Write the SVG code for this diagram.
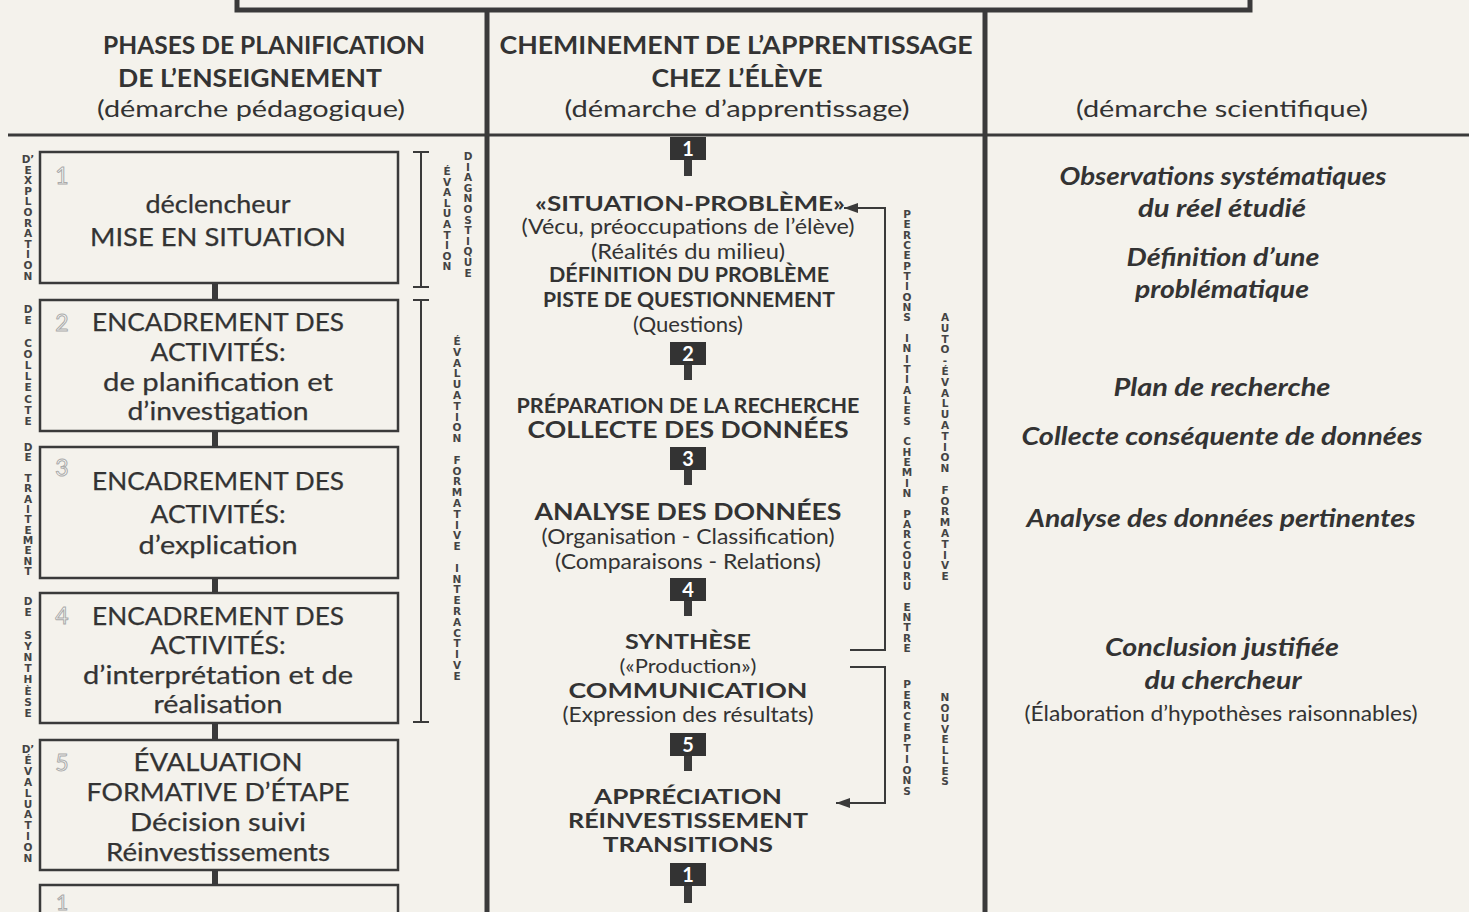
<svg xmlns="http://www.w3.org/2000/svg" width="1469" height="912" viewBox="0 0 1469 912">
<defs>
<style>
text{font-family:Lato,"Open Sans","Liberation Sans",sans-serif;fill:#333;}
.hd{font-size:24px;font-weight:bold;text-anchor:middle;}
.hs{font-size:23px;text-anchor:middle;}
.bx{font-size:25px;text-anchor:middle;stroke:#333;stroke-width:0.25;}
.num{font-size:23px;fill:#fbfbf8;stroke:#aaa;stroke-width:1;text-anchor:middle;}
.mb{font-size:21px;font-weight:bold;text-anchor:middle;}
.mr{font-size:21px;text-anchor:middle;}
.sqn{font-size:20px;font-weight:bold;fill:#fff;text-anchor:middle;}
.it{font-size:24px;font-weight:bold;font-style:italic;text-anchor:middle;}
.vl{font-family:"DejaVu Sans",Lato,sans-serif;font-size:10.5px;font-weight:bold;text-anchor:middle;fill:#444;}
.box{fill:none;stroke:#3a3a3a;stroke-width:2.5;}
.ln{stroke:#3a3a3a;fill:none;}
.sq{fill:#333;}
</style>
<marker id="ah" viewBox="0 0 14 10" refX="14" refY="5" markerWidth="14" markerHeight="10" markerUnits="userSpaceOnUse" orient="auto">
<path d="M0,0 L14,5 L0,10 Z" fill="#3a3a3a"/>
</marker>
</defs>
<rect width="1469" height="912" fill="#f4f2ec"/>

<g id="frame">
<path class="ln" d="M237,0 V10 H1250 V0" stroke-width="5"/>
<line class="ln" x1="487" y1="10" x2="487" y2="912" stroke-width="5"/>
<line class="ln" x1="985" y1="10" x2="985" y2="912" stroke-width="5"/>
<line class="ln" x1="8" y1="135" x2="1469" y2="135" stroke-width="3"/>
</g>

<g id="headers">
<text class="hd" x="264" y="54" textLength="322" lengthAdjust="spacingAndGlyphs">PHASES DE PLANIFICATION</text>
<text class="hd" x="250" y="87" textLength="264" lengthAdjust="spacingAndGlyphs">DE L’ENSEIGNEMENT</text>
<text class="hs" x="251" y="117" textLength="308" lengthAdjust="spacingAndGlyphs">(démarche pédagogique)</text>
<text class="hd" x="736" y="54" textLength="473" lengthAdjust="spacingAndGlyphs">CHEMINEMENT DE L’APPRENTISSAGE</text>
<text class="hd" x="737" y="87" textLength="171" lengthAdjust="spacingAndGlyphs">CHEZ L’ÉLÈVE</text>
<text class="hs" x="737" y="117" textLength="345" lengthAdjust="spacingAndGlyphs">(démarche d’apprentissage)</text>
<text class="hs" x="1222" y="117" textLength="292" lengthAdjust="spacingAndGlyphs">(démarche scientifique)</text>
</g>

<g id="left-phase-labels">
<text class="vl"><tspan x="28" y="163">D’</tspan><tspan x="28" y="173.6">E</tspan><tspan x="28" y="184.2">X</tspan><tspan x="28" y="194.8">P</tspan><tspan x="28" y="205.4">L</tspan><tspan x="28" y="216">O</tspan><tspan x="28" y="226.6">R</tspan><tspan x="28" y="237.2">A</tspan><tspan x="28" y="247.8">T</tspan><tspan x="28" y="258.4">I</tspan><tspan x="28" y="269">O</tspan><tspan x="28" y="279.6">N</tspan></text>
<text class="vl"><tspan x="28" y="313">D</tspan><tspan x="28" y="324.2">E</tspan><tspan x="28" y="346.6">C</tspan><tspan x="28" y="357.8">O</tspan><tspan x="28" y="369">L</tspan><tspan x="28" y="380.2">L</tspan><tspan x="28" y="391.4">E</tspan><tspan x="28" y="402.6">C</tspan><tspan x="28" y="413.8">T</tspan><tspan x="28" y="425">E</tspan></text>
<text class="vl"><tspan x="28" y="451">D</tspan><tspan x="28" y="461.3">E</tspan><tspan x="28" y="482">T</tspan><tspan x="28" y="492.3">R</tspan><tspan x="28" y="502.7">A</tspan><tspan x="28" y="513">I</tspan><tspan x="28" y="523.3">T</tspan><tspan x="28" y="533.7">E</tspan><tspan x="28" y="544">M</tspan><tspan x="28" y="554.3">E</tspan><tspan x="28" y="564.7">N</tspan><tspan x="28" y="575">T</tspan></text>
<text class="vl"><tspan x="28" y="605">D</tspan><tspan x="28" y="616.2">E</tspan><tspan x="28" y="638.6">S</tspan><tspan x="28" y="649.8">Y</tspan><tspan x="28" y="661">N</tspan><tspan x="28" y="672.2">T</tspan><tspan x="28" y="683.4">H</tspan><tspan x="28" y="694.6">È</tspan><tspan x="28" y="705.8">S</tspan><tspan x="28" y="717">E</tspan></text>
<text class="vl"><tspan x="28" y="753">D’</tspan><tspan x="28" y="763.9">É</tspan><tspan x="28" y="774.8">V</tspan><tspan x="28" y="785.7">A</tspan><tspan x="28" y="796.6">L</tspan><tspan x="28" y="807.5">U</tspan><tspan x="28" y="818.4">A</tspan><tspan x="28" y="829.3">T</tspan><tspan x="28" y="840.2">I</tspan><tspan x="28" y="851.1">O</tspan><tspan x="28" y="862">N</tspan></text>
</g>

<g id="connectors">
<g class="ln" stroke-width="6">
<line x1="215" y1="283" x2="215" y2="300"/>
<line x1="215" y1="431" x2="215" y2="447"/>
<line x1="215" y1="578" x2="215" y2="593"/>
<line x1="215" y1="723" x2="215" y2="740"/>
<line x1="215" y1="870" x2="215" y2="885"/>
</g>
<g class="ln" stroke-width="2">
<path d="M421,152 V287 M413,152 H429 M413,287 H429"/>
<path d="M421,300 V722 M413,300 H429 M413,722 H429"/>
</g>
<g class="ln" stroke-width="8">
<line x1="688" y1="160" x2="688" y2="176"/>
<line x1="688" y1="365" x2="688" y2="380"/>
<line x1="688" y1="470" x2="688" y2="485"/>
<line x1="688" y1="601" x2="688" y2="616"/>
<line x1="688" y1="756" x2="688" y2="771"/>
<line x1="688" y1="886" x2="688" y2="903"/>
</g>
<path class="ln" stroke-width="2" d="M850,650 H885 V208 H844" marker-end="url(#ah)"/>
<path class="ln" stroke-width="2" d="M850,667 H885 V803 H836" marker-end="url(#ah)"/>
</g>

<g id="bracket-labels">
<text class="vl"><tspan x="447" y="175">É</tspan><tspan x="447" y="185.6">V</tspan><tspan x="447" y="196.2">A</tspan><tspan x="447" y="206.8">L</tspan><tspan x="447" y="217.4">U</tspan><tspan x="447" y="228">A</tspan><tspan x="447" y="238.6">T</tspan><tspan x="447" y="249.2">I</tspan><tspan x="447" y="259.8">O</tspan><tspan x="447" y="270.4">N</tspan></text>
<text class="vl"><tspan x="468" y="160">D</tspan><tspan x="468" y="170.6">I</tspan><tspan x="468" y="181.2">A</tspan><tspan x="468" y="191.8">G</tspan><tspan x="468" y="202.4">N</tspan><tspan x="468" y="213">O</tspan><tspan x="468" y="223.6">S</tspan><tspan x="468" y="234.2">T</tspan><tspan x="468" y="244.8">I</tspan><tspan x="468" y="255.4">Q</tspan><tspan x="468" y="266">U</tspan><tspan x="468" y="276.6">E</tspan></text>
<text class="vl"><tspan x="457" y="345">É</tspan><tspan x="457" y="355.8">V</tspan><tspan x="457" y="366.6">A</tspan><tspan x="457" y="377.4">L</tspan><tspan x="457" y="388.2">U</tspan><tspan x="457" y="399">A</tspan><tspan x="457" y="409.8">T</tspan><tspan x="457" y="420.6">I</tspan><tspan x="457" y="431.4">O</tspan><tspan x="457" y="442.2">N</tspan><tspan x="457" y="463.8">F</tspan><tspan x="457" y="474.6">O</tspan><tspan x="457" y="485.4">R</tspan><tspan x="457" y="496.2">M</tspan><tspan x="457" y="507">A</tspan><tspan x="457" y="517.8">T</tspan><tspan x="457" y="528.6">I</tspan><tspan x="457" y="539.4">V</tspan><tspan x="457" y="550.2">E</tspan><tspan x="457" y="571.8">I</tspan><tspan x="457" y="582.6">N</tspan><tspan x="457" y="593.4">T</tspan><tspan x="457" y="604.2">E</tspan><tspan x="457" y="615">R</tspan><tspan x="457" y="625.8">A</tspan><tspan x="457" y="636.6">C</tspan><tspan x="457" y="647.4">T</tspan><tspan x="457" y="658.2">I</tspan><tspan x="457" y="669">V</tspan><tspan x="457" y="679.8">E</tspan></text>
</g>

<g id="box1">
<rect class="box" x="40" y="152" width="358" height="131"/>
<text class="num" x="62" y="184">1</text>
<text class="bx" x="218" y="213" textLength="145" lengthAdjust="spacingAndGlyphs">déclencheur</text>
<text class="bx" x="218" y="246" textLength="256" lengthAdjust="spacingAndGlyphs">MISE EN SITUATION</text>
</g>
<g id="box2">
<rect class="box" x="40" y="300" width="358" height="131"/>
<text class="num" x="62" y="331">2</text>
<text class="bx" x="218" y="331" textLength="252" lengthAdjust="spacingAndGlyphs">ENCADREMENT DES</text>
<text class="bx" x="218" y="361" textLength="135" lengthAdjust="spacingAndGlyphs">ACTIVITÉS:</text>
<text class="bx" x="218" y="391" textLength="230" lengthAdjust="spacingAndGlyphs">de planification et</text>
<text class="bx" x="218" y="420" textLength="181" lengthAdjust="spacingAndGlyphs">d’investigation</text>
</g>
<g id="box3">
<rect class="box" x="40" y="447" width="358" height="131"/>
<text class="num" x="62" y="476">3</text>
<text class="bx" x="218" y="490" textLength="252" lengthAdjust="spacingAndGlyphs">ENCADREMENT DES</text>
<text class="bx" x="218" y="523" textLength="135" lengthAdjust="spacingAndGlyphs">ACTIVITÉS:</text>
<text class="bx" x="218" y="554" textLength="159" lengthAdjust="spacingAndGlyphs">d’explication</text>
</g>
<g id="box4">
<rect class="box" x="40" y="593" width="358" height="130"/>
<text class="num" x="62" y="624">4</text>
<text class="bx" x="218" y="625" textLength="252" lengthAdjust="spacingAndGlyphs">ENCADREMENT DES</text>
<text class="bx" x="218" y="654" textLength="135" lengthAdjust="spacingAndGlyphs">ACTIVITÉS:</text>
<text class="bx" x="218" y="684" textLength="270" lengthAdjust="spacingAndGlyphs">d’interprétation et de</text>
<text class="bx" x="218" y="713" textLength="129" lengthAdjust="spacingAndGlyphs">réalisation</text>
</g>
<g id="box5">
<rect class="box" x="40" y="740" width="358" height="130"/>
<text class="num" x="62" y="771">5</text>
<text class="bx" x="218" y="771" textLength="169" lengthAdjust="spacingAndGlyphs">ÉVALUATION</text>
<text class="bx" x="218" y="801" textLength="263" lengthAdjust="spacingAndGlyphs">FORMATIVE D’ÉTAPE</text>
<text class="bx" x="218" y="831" textLength="176" lengthAdjust="spacingAndGlyphs">Décision suivi</text>
<text class="bx" x="218" y="861" textLength="224" lengthAdjust="spacingAndGlyphs">Réinvestissements</text>
</g>
<g id="box1-next">
<rect class="box" x="40" y="885" width="358" height="40"/>
<text class="num" x="62" y="910" style="font-size:21px">1</text>
</g>

<g id="step1">
<rect class="sq" x="670" y="137" width="36" height="23"/>
<text class="sqn" x="688" y="156">1</text>
<text class="mb" x="690" y="211" textLength="310" lengthAdjust="spacingAndGlyphs">«SITUATION-PROBLÈME»</text>
<text class="mr" x="688" y="234" textLength="333" lengthAdjust="spacingAndGlyphs">(Vécu, préoccupations de l’élève)</text>
<text class="mr" x="688" y="259" textLength="194" lengthAdjust="spacingAndGlyphs">(Réalités du milieu)</text>
<text class="mb" x="689" y="282" textLength="280" lengthAdjust="spacingAndGlyphs">DÉFINITION DU PROBLÈME</text>
<text class="mb" x="689" y="307" textLength="292" lengthAdjust="spacingAndGlyphs">PISTE DE QUESTIONNEMENT</text>
<text class="mr" x="688" y="332" textLength="110" lengthAdjust="spacingAndGlyphs">(Questions)</text>
</g>
<g id="step2">
<rect class="sq" x="670" y="342" width="36" height="23"/>
<text class="sqn" x="688" y="361">2</text>
<text class="mb" x="688" y="413" textLength="343" lengthAdjust="spacingAndGlyphs" style="font-size:20px">PRÉPARATION DE LA RECHERCHE</text>
<text class="mb" x="688" y="438" textLength="321" lengthAdjust="spacingAndGlyphs" style="font-size:22px">COLLECTE DES DONNÉES</text>
</g>
<g id="step3">
<rect class="sq" x="670" y="447" width="36" height="23"/>
<text class="sqn" x="688" y="466">3</text>
<text class="mb" x="688" y="520" textLength="307" lengthAdjust="spacingAndGlyphs" style="font-size:22px">ANALYSE DES DONNÉES</text>
<text class="mr" x="688" y="544" textLength="293" lengthAdjust="spacingAndGlyphs">(Organisation - Classification)</text>
<text class="mr" x="688" y="569" textLength="266" lengthAdjust="spacingAndGlyphs">(Comparaisons - Relations)</text>
</g>
<g id="step4">
<rect class="sq" x="670" y="578" width="36" height="23"/>
<text class="sqn" x="688" y="597">4</text>
<text class="mb" x="688" y="649" textLength="126" lengthAdjust="spacingAndGlyphs">SYNTHÈSE</text>
<text class="mr" x="688" y="673" textLength="137" lengthAdjust="spacingAndGlyphs" style="font-size:19px">(«Production»)</text>
<text class="mb" x="688" y="698" textLength="239" lengthAdjust="spacingAndGlyphs">COMMUNICATION</text>
<text class="mr" x="688" y="722" textLength="251" lengthAdjust="spacingAndGlyphs">(Expression des résultats)</text>
</g>
<g id="step5">
<rect class="sq" x="670" y="733" width="36" height="23"/>
<text class="sqn" x="688" y="752">5</text>
<text class="mb" x="688" y="804" textLength="188" lengthAdjust="spacingAndGlyphs">APPRÉCIATION</text>
<text class="mb" x="688" y="828" textLength="240" lengthAdjust="spacingAndGlyphs">RÉINVESTISSEMENT</text>
<text class="mb" x="688" y="852" textLength="170" lengthAdjust="spacingAndGlyphs">TRANSITIONS</text>
</g>
<g id="step1-next">
<rect class="sq" x="670" y="863" width="36" height="23"/>
<text class="sqn" x="688" y="882">1</text>
</g>

<g id="path-labels">
<text class="vl"><tspan x="907" y="218">P</tspan><tspan x="907" y="228.3">E</tspan><tspan x="907" y="238.7">R</tspan><tspan x="907" y="249">C</tspan><tspan x="907" y="259.3">E</tspan><tspan x="907" y="269.7">P</tspan><tspan x="907" y="280">T</tspan><tspan x="907" y="290.3">I</tspan><tspan x="907" y="300.7">O</tspan><tspan x="907" y="311">N</tspan><tspan x="907" y="321.3">S</tspan><tspan x="907" y="342">I</tspan><tspan x="907" y="352.3">N</tspan><tspan x="907" y="362.7">I</tspan><tspan x="907" y="373">T</tspan><tspan x="907" y="383.3">I</tspan><tspan x="907" y="393.7">A</tspan><tspan x="907" y="404">L</tspan><tspan x="907" y="414.3">E</tspan><tspan x="907" y="424.7">S</tspan><tspan x="907" y="445.3">C</tspan><tspan x="907" y="455.7">H</tspan><tspan x="907" y="466">E</tspan><tspan x="907" y="476.3">M</tspan><tspan x="907" y="486.7">I</tspan><tspan x="907" y="497">N</tspan><tspan x="907" y="517.7">P</tspan><tspan x="907" y="528">A</tspan><tspan x="907" y="538.3">R</tspan><tspan x="907" y="548.7">C</tspan><tspan x="907" y="559">O</tspan><tspan x="907" y="569.3">U</tspan><tspan x="907" y="579.7">R</tspan><tspan x="907" y="590">U</tspan><tspan x="907" y="610.7">E</tspan><tspan x="907" y="621">N</tspan><tspan x="907" y="631.3">T</tspan><tspan x="907" y="641.7">R</tspan><tspan x="907" y="652">E</tspan></text>
<text class="vl"><tspan x="945" y="321">A</tspan><tspan x="945" y="331.8">U</tspan><tspan x="945" y="342.6">T</tspan><tspan x="945" y="353.4">O</tspan><tspan x="945" y="364.2">-</tspan><tspan x="945" y="375">É</tspan><tspan x="945" y="385.8">V</tspan><tspan x="945" y="396.6">A</tspan><tspan x="945" y="407.4">L</tspan><tspan x="945" y="418.2">U</tspan><tspan x="945" y="429">A</tspan><tspan x="945" y="439.8">T</tspan><tspan x="945" y="450.6">I</tspan><tspan x="945" y="461.4">O</tspan><tspan x="945" y="472.2">N</tspan><tspan x="945" y="493.8">F</tspan><tspan x="945" y="504.6">O</tspan><tspan x="945" y="515.4">R</tspan><tspan x="945" y="526.2">M</tspan><tspan x="945" y="537">A</tspan><tspan x="945" y="547.8">T</tspan><tspan x="945" y="558.6">I</tspan><tspan x="945" y="569.4">V</tspan><tspan x="945" y="580.2">E</tspan></text>
<text class="vl"><tspan x="907" y="688">P</tspan><tspan x="907" y="698.7">E</tspan><tspan x="907" y="709.4">R</tspan><tspan x="907" y="720.1">C</tspan><tspan x="907" y="730.8">E</tspan><tspan x="907" y="741.5">P</tspan><tspan x="907" y="752.2">T</tspan><tspan x="907" y="762.9">I</tspan><tspan x="907" y="773.6">O</tspan><tspan x="907" y="784.3">N</tspan><tspan x="907" y="795">S</tspan></text>
<text class="vl"><tspan x="945" y="701">N</tspan><tspan x="945" y="711.5">O</tspan><tspan x="945" y="722">U</tspan><tspan x="945" y="732.5">V</tspan><tspan x="945" y="743">E</tspan><tspan x="945" y="753.5">L</tspan><tspan x="945" y="764">L</tspan><tspan x="945" y="774.5">E</tspan><tspan x="945" y="785">S</tspan></text>
</g>

<g id="sci1">
<text class="it" x="1223" y="185" textLength="327" lengthAdjust="spacingAndGlyphs">Observations systématiques</text>
<text class="it" x="1222" y="217" textLength="168" lengthAdjust="spacingAndGlyphs">du réel étudié</text>
</g>
<g id="sci2">
<text class="it" x="1223" y="266" textLength="193" lengthAdjust="spacingAndGlyphs">Définition d’une</text>
<text class="it" x="1222" y="298" textLength="174" lengthAdjust="spacingAndGlyphs">problématique</text>
</g>
<g id="sci3"><text class="it" x="1222" y="396" textLength="217" lengthAdjust="spacingAndGlyphs">Plan de recherche</text></g>
<g id="sci4"><text class="it" x="1222" y="445" textLength="401" lengthAdjust="spacingAndGlyphs">Collecte conséquente de données</text></g>
<g id="sci5"><text class="it" x="1221" y="527" textLength="389" lengthAdjust="spacingAndGlyphs">Analyse des données pertinentes</text></g>
<g id="sci6">
<text class="it" x="1222" y="656" textLength="234" lengthAdjust="spacingAndGlyphs">Conclusion justifiée</text>
<text class="it" x="1223" y="689" textLength="157" lengthAdjust="spacingAndGlyphs">du chercheur</text>
<text class="mr" x="1221" y="721" textLength="393" lengthAdjust="spacingAndGlyphs">(Élaboration d’hypothèses raisonnables)</text>
</g>
</svg>
